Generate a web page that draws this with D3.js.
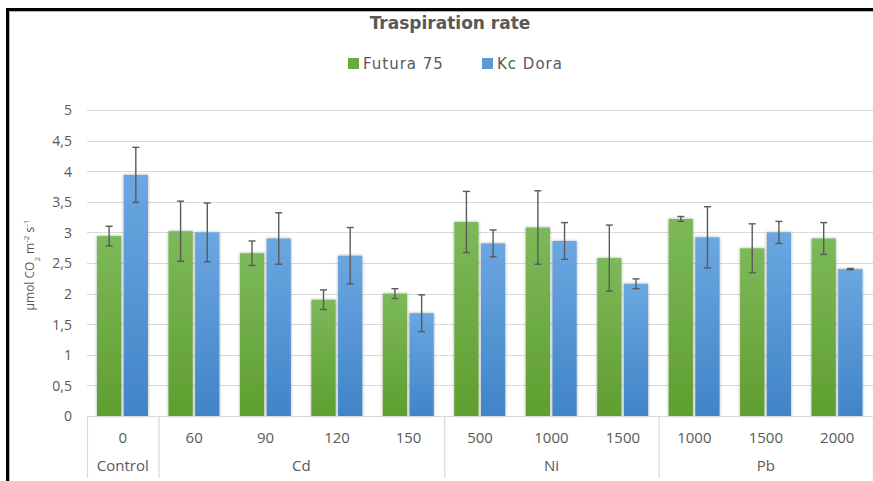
<!DOCTYPE html>
<html>
<head>
<meta charset="utf-8">
<script src="https://cdn.jsdelivr.net/npm/d3@7"></script>
<style>
  html, body { margin: 0; padding: 0; background: #fff; }
  svg { display: block; }
  text { font-family: "Open Sans", "Noto Sans", sans-serif; fill: #595959; }
</style>
</head>
<body>
<svg id="chart" width="873" height="481"></svg>
<script>
// Treatment doses (first axis level) and the metal group each belongs to
const categories = ["0", "60", "90", "120", "150", "500", "1000", "1500", "1000", "1500", "2000"];
const groups = [
  { name: "Control", start: 0, end: 1 },
  { name: "Cd", start: 1, end: 5 },
  { name: "Ni", start: 5, end: 8 },
  { name: "Pb", start: 8, end: 11 }
];
const seriesNames = ["Futura 75", "Kc Dora"];

// Transpiration rate (µmol CO2 m-2 s-1) and standard deviation
const futura = [2.94, 3.02, 2.66, 1.90, 2.00, 3.17, 3.08, 2.58, 3.22, 2.74, 2.90];
const futuraErr = [0.16, 0.49, 0.20, 0.16, 0.08, 0.50, 0.60, 0.54, 0.04, 0.40, 0.26];
const kcDora = [3.94, 3.00, 2.90, 2.62, 1.68, 2.82, 2.86, 2.16, 2.92, 3.00, 2.40];
const kcDoraErr = [0.45, 0.48, 0.42, 0.46, 0.30, 0.22, 0.30, 0.08, 0.50, 0.18, 0.01];

const yTicks = [0, 0.5, 1, 1.5, 2, 2.5, 3, 3.5, 4, 4.5, 5];

const svg = d3.select("#chart");
const W = 873, H = 481;
const plot = { left: 87, right: 873, top: 110, bottom: 416 };

// Gradients and soft shadow for the bars
const defs = svg.append("defs");
const grads = [
  { id: "gGreen", top: "#7db95a", bottom: "#5f9e30" },
  { id: "gBlue", top: "#6ba7e1", bottom: "#4184c7" }
];
grads.forEach(g => {
  const lg = defs.append("linearGradient").attr("id", g.id)
    .attr("x1", 0).attr("y1", 0).attr("x2", 0).attr("y2", 1);
  lg.append("stop").attr("offset", "0%").attr("stop-color", g.top);
  lg.append("stop").attr("offset", "100%").attr("stop-color", g.bottom);
});
const sh = defs.append("filter").attr("id", "shadow")
  .attr("x", "-30%").attr("y", "-10%").attr("width", "160%").attr("height", "120%");
sh.append("feDropShadow").attr("dx", 0).attr("dy", 0)
  .attr("stdDeviation", 1.4).attr("flood-color", "#000").attr("flood-opacity", 0.35);

// Outer frame
svg.append("rect").attr("x", 0).attr("y", 0).attr("width", W).attr("height", H).attr("fill", "#fff");
svg.append("path")
  .attr("d", `M7.5,${H} L7.5,9.5 L${W},9.5`)
  .attr("fill", "none").attr("stroke", "#000").attr("stroke-width", 3);
svg.append("path")
  .attr("d", `M9.5,${H} L9.5,11.5 L${W},11.5`)
  .attr("fill", "none").attr("stroke", "#b0b0b0").attr("stroke-width", 1);

// Scales
const x0 = d3.scaleBand().domain(d3.range(categories.length))
  .range([plot.left, plot.right]).padding(0);
const x1 = d3.scaleBand().domain(seriesNames)
  .range([10, x0.bandwidth() - 10.5]).paddingInner(0.09);
const y = d3.scaleLinear().domain([0, 5]).range([plot.bottom, plot.top]);

// Gridlines
svg.append("g").selectAll("line").data(yTicks.filter(t => t > 0)).join("line")
  .attr("x1", plot.left).attr("x2", plot.right)
  .attr("y1", d => Math.round(y(d)) + 0.5).attr("y2", d => Math.round(y(d)) + 0.5)
  .attr("stroke", "#d9d9d9").attr("stroke-width", 1.2);

// Y axis tick labels
const yAxis = d3.axisLeft(y).tickValues(yTicks).tickSize(0).tickPadding(0)
  .tickFormat(d => String(d).replace(".", ","));
const yg = svg.append("g").attr("transform", `translate(${plot.left - 15},0)`).call(yAxis);
yg.select(".domain").remove();
yg.selectAll("text").style("font-size", "14px").attr("fill", "#595959").attr("dy", "0.35em");

// Y axis title with sub/superscripts
const yt = svg.append("text")
  .attr("transform", `translate(34,${(plot.top + plot.bottom) / 2 + 2}) rotate(-90)`)
  .attr("text-anchor", "middle").style("font-size", "12px");
yt.append("tspan").text("µmol CO");
yt.append("tspan").text("2").attr("baseline-shift", "sub").style("font-size", "8px");
yt.append("tspan").text(" m");
yt.append("tspan").text("-2").attr("baseline-shift", "super").style("font-size", "8px");
yt.append("tspan").text(" s");
yt.append("tspan").text("-1").attr("baseline-shift", "super").style("font-size", "8px");

// Bars
const rows = categories.map((c, i) => ({
  i,
  vals: [
    { s: seriesNames[0], v: futura[i], e: futuraErr[i], fill: "url(#gGreen)" },
    { s: seriesNames[1], v: kcDora[i], e: kcDoraErr[i], fill: "url(#gBlue)" }
  ]
}));
const cat = svg.append("g").selectAll("g").data(rows).join("g")
  .attr("transform", d => `translate(${x0(d.i)},0)`);
cat.selectAll("rect").data(d => d.vals).join("rect")
  .attr("x", d => x1(d.s)).attr("width", x1.bandwidth())
  .attr("y", d => y(d.v)).attr("height", d => y(0) - y(d.v))
  .attr("fill", d => d.fill).attr("filter", "url(#shadow)");

// Error bars
const eb = cat.selectAll("g.err").data(d => d.vals).join("g").attr("class", "err")
  .attr("stroke", "#5a5a5a").attr("stroke-width", 1.4);
const cx = d => x1(d.s) + x1.bandwidth() / 2;
eb.append("line").attr("x1", cx).attr("x2", cx)
  .attr("y1", d => y(d.v + d.e)).attr("y2", d => y(d.v - d.e));
[1, -1].forEach(sgn => {
  eb.append("line").attr("x1", d => cx(d) - 3.5).attr("x2", d => cx(d) + 3.5)
    .attr("y1", d => y(d.v + sgn * d.e)).attr("y2", d => y(d.v + sgn * d.e));
});

// Category axis line and group dividers
svg.append("line").attr("x1", plot.left).attr("x2", plot.right)
  .attr("y1", plot.bottom + 0.5).attr("y2", plot.bottom + 0.5)
  .attr("stroke", "#d9d9d9").attr("stroke-width", 1.2);
const bounds = [0].concat(groups.map(g => g.end));
svg.append("g").selectAll("line").data(bounds).join("line")
  .attr("x1", d => (d < categories.length ? x0(d) : plot.right) + 0.5)
  .attr("x2", d => (d < categories.length ? x0(d) : plot.right) + 0.5)
  .attr("y1", plot.bottom).attr("y2", 478)
  .attr("stroke", "#d9d9d9").attr("stroke-width", 1.2);

// Category labels
svg.append("g").selectAll("text").data(categories).join("text")
  .attr("x", (d, i) => x0(i) + x0.bandwidth() / 2).attr("y", 443)
  .attr("text-anchor", "middle").style("font-size", "15px").text(d => d);

// Group labels
svg.append("g").selectAll("text").data(groups).join("text")
  .attr("x", g => (x0(g.start) + (g.end < categories.length ? x0(g.end) : plot.right)) / 2)
  .attr("y", 471).attr("text-anchor", "middle").style("font-size", "15px")
  .text(g => g.name);

// Title
svg.append("text").attr("x", 450).attr("y", 29).attr("text-anchor", "middle")
  .style("font-family", "'DejaVu Sans', sans-serif")
  .style("font-size", "17px").style("font-weight", "bold").text("Traspiration rate");

// Legend
const legend = [
  { name: seriesNames[0], color: "#6aa93f", x: 348 },
  { name: seriesNames[1], color: "#5b9bd5", x: 482 }
];
const lg = svg.append("g").selectAll("g").data(legend).join("g")
  .attr("transform", d => `translate(${d.x},58)`);
lg.append("rect").attr("width", 11).attr("height", 11).attr("fill", d => d.color);
lg.append("text").attr("x", 15).attr("y", 11)
  .style("font-family", "'DejaVu Sans', sans-serif")
  .style("letter-spacing", "1px")
  .style("font-size", "15px").text(d => d.name);
</script>
</body>
</html>
